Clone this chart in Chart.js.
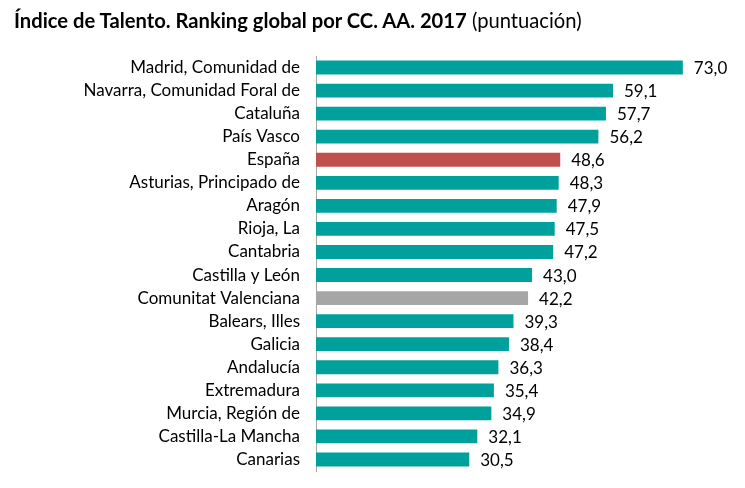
<!DOCTYPE html>
<html>
<head>
<meta charset="utf-8">
<script src="https://cdn.jsdelivr.net/npm/chart.js@4/dist/chart.umd.min.js"></script>
<style>
  html, body { margin: 0; padding: 0; background: #fff; }
  #wrap { position: relative; width: 745px; height: 488px; }
  #title { position: absolute; left: 14px; top: 8px; font-family: Lato, sans-serif; font-size: 20.2px; color: #000; white-space: nowrap; }
  #title b { font-weight: 700; }
  canvas { position: absolute; left: 0; top: 0; }
</style>
</head>
<body>
<div id="wrap">
  <canvas id="chart" width="745" height="488"></canvas>
  <div id="title"><b>Índice de Talento. Ranking global por CC. AA. 2017</b> (puntuación)</div>
</div>
<script>
  const regions = [
    'Madrid, Comunidad de', 'Navarra, Comunidad Foral de', 'Cataluña', 'País Vasco',
    'España', 'Asturias, Principado de', 'Aragón', 'Rioja, La', 'Cantabria',
    'Castilla y León', 'Comunitat Valenciana', 'Balears, Illes', 'Galicia',
    'Andalucía', 'Extremadura', 'Murcia, Región de', 'Castilla-La Mancha', 'Canarias'
  ];
  const scores = [73.0, 59.1, 57.7, 56.2, 48.6, 48.3, 47.9, 47.5, 47.2, 43.0, 42.2, 39.3, 38.4, 36.3, 35.4, 34.9, 32.1, 30.5];
  const highlightSpain = 'España';
  const highlightOwn = 'Comunitat Valenciana';

  const TEAL = '#00A19C', RED = '#C0504D', GREY = '#A6A6A6';
  const FONT = 'Lato, sans-serif';

  function barColor(name) {
    if (name === highlightSpain) return RED;
    if (name === highlightOwn) return GREY;
    return TEAL;
  }

  function fmt(v) {
    return v.toFixed(1).replace('.', ',');
  }

  const valueLabels = {
    id: 'valueLabels',
    afterDatasetsDraw(chart) {
      const ctx = chart.ctx;
      const meta = chart.getDatasetMeta(0);
      ctx.save();
      ctx.font = '17px ' + FONT;
      ctx.fillStyle = '#000';
      ctx.textAlign = 'left';
      ctx.textBaseline = 'middle';
      meta.data.forEach((bar, i) => {
        ctx.fillText(fmt(scores[i]), bar.x + 11, bar.y + 1);
      });
      ctx.restore();
    }
  };

  new Chart(document.getElementById('chart').getContext('2d'), {
    type: 'bar',
    data: {
      labels: regions,
      datasets: [{
        data: scores,
        backgroundColor: regions.map(barColor),
        categoryPercentage: 1,
        barPercentage: 0.6
      }]
    },
    options: {
      indexAxis: 'y',
      responsive: false,
      animation: false,
      layout: { padding: { top: 56, bottom: 17, left: 0, right: 27 } },
      scales: {
        x: { display: false, min: 0, max: 80 },
        y: {
          afterFit: (scale) => {
            scale.width = 316;
            scale.paddingTop = 0;
            scale.paddingBottom = 0;
          },
          grid: { display: false, drawTicks: false },
          border: { display: true, color: '#A6A6A6', width: 1 },
          ticks: { color: '#000', font: { family: FONT, size: 17 }, padding: 16, autoSkip: false }
        }
      },
      plugins: {
        legend: { display: false },
        tooltip: { enabled: false }
      }
    },
    plugins: [valueLabels]
  });
</script>
</body>
</html>
